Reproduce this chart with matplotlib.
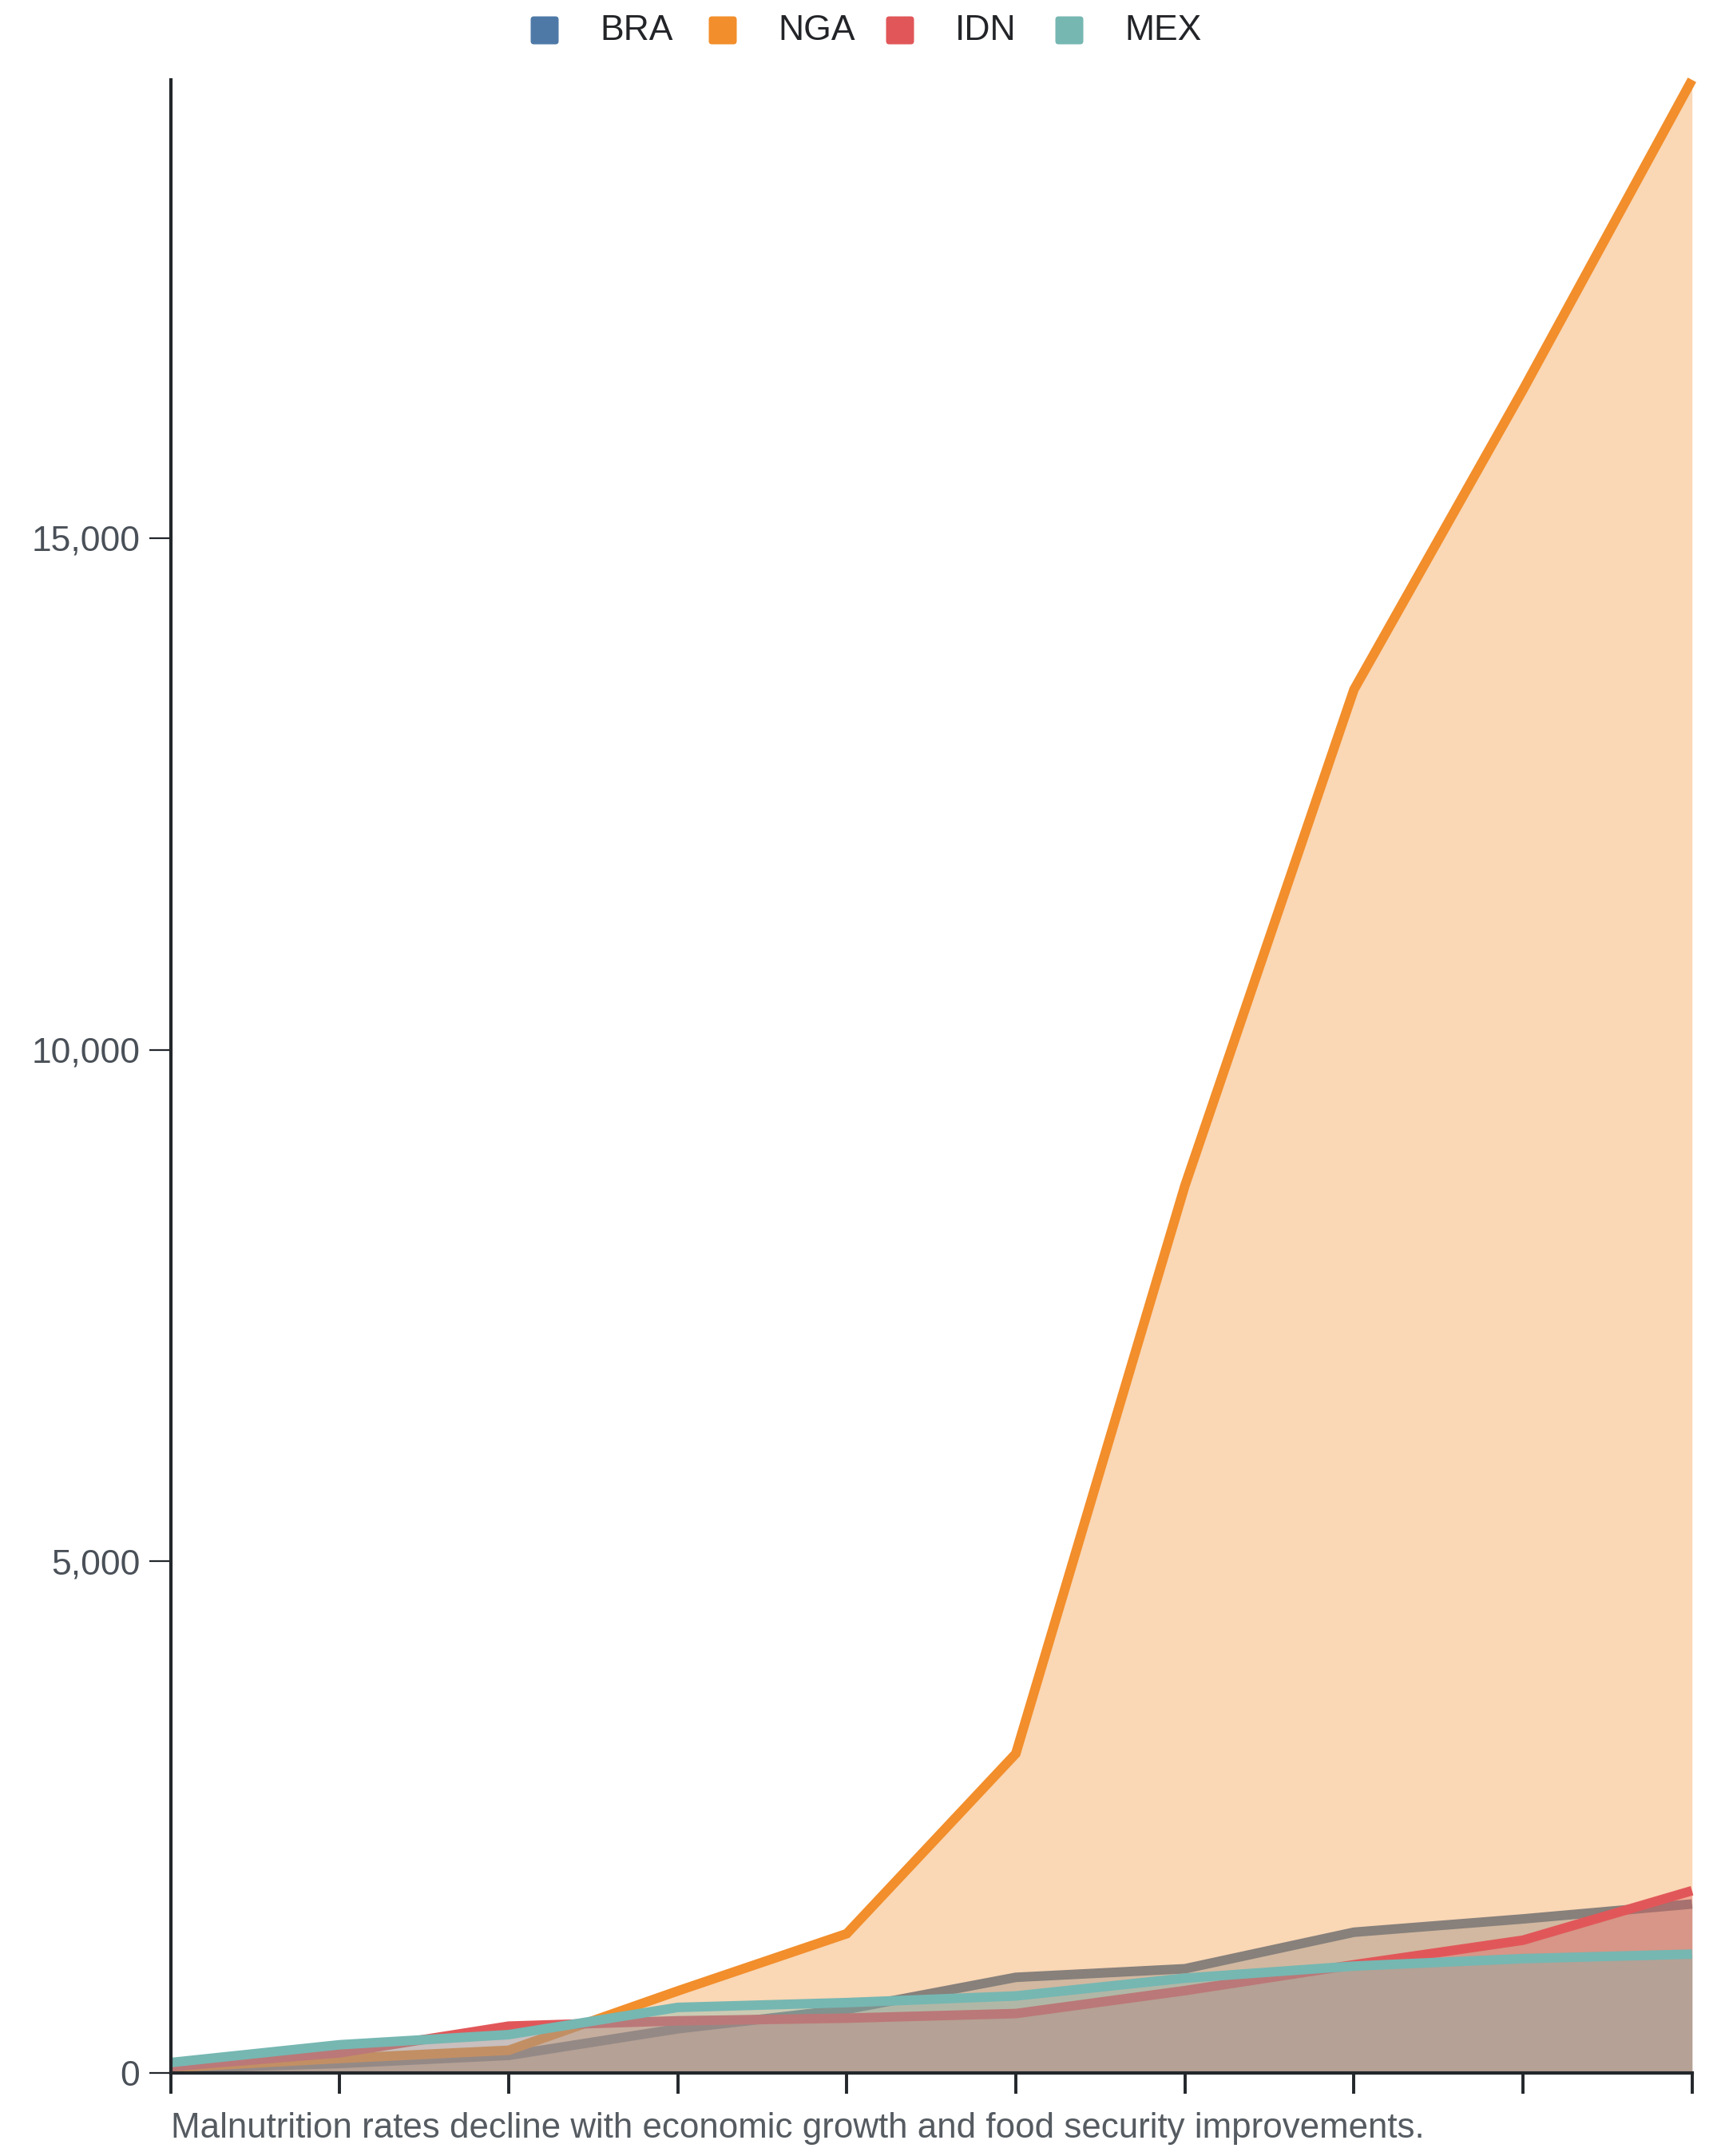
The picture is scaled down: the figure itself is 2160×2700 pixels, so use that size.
import matplotlib
matplotlib.use("Agg")
import matplotlib.pyplot as plt
from matplotlib.patches import FancyBboxPatch
from matplotlib.ticker import FuncFormatter

plt.rcParams['font.family'] = ['Liberation Sans', 'DejaVu Sans']

# ---- data ----
periods = list(range(10))
series_names = ["BRA", "NGA", "IDN", "MEX"]
bra = [40, 91, 170, 430, 620, 933, 1017, 1374, 1504, 1650]
nga = [50, 140, 220, 800, 1360, 3120, 8670, 13520, 16450, 19480]
idn = [60, 195, 456, 508, 534, 579, 803, 1056, 1296, 1780]
mex = [100, 274, 373, 639, 686, 751, 925, 1043, 1116, 1160]
y_ticks = [0, 5000, 10000, 15000]
caption = "Malnutrition rates decline with economic growth and food security improvements."

colors = ["#4e79a7", "#f28e2b", "#e15759", "#76b7b2"]
values = [bra, nga, idn, mex]

W, H = 2160, 2700
fig = plt.figure(figsize=(W / 100, H / 100), dpi=100)
fig.patch.set_facecolor("white")

left, right = 213.6, 2118.7
top, bottom = 100, 2595.8
ax = fig.add_axes([left / W, 1 - bottom / H, (right - left) / W, (bottom - top) / H])

z = 1
for vals, c in zip(values, colors):
    ax.fill_between(periods, 0, vals, color=c, alpha=0.35, linewidth=0, zorder=z)
    ax.plot(periods, vals, color=c, linewidth=8.6, solid_joinstyle="miter",
            solid_capstyle="butt", clip_on=False, zorder=z + 0.5)
    z += 1

ax.set_xlim(periods[0], periods[-1])
ax.set_ylim(0, max(nga))
ax.set_xticks(periods)
ax.set_xticklabels([])
ax.set_yticks(y_ticks)
ax.yaxis.set_major_formatter(FuncFormatter(lambda v, p: f"{int(v):,}"))

for s in ["top", "right"]:
    ax.spines[s].set_visible(False)
for s in ["left", "bottom"]:
    ax.spines[s].set_color("#23272b")
    ax.spines[s].set_linewidth(3.0)
    ax.spines[s].set_zorder(10)

ax.tick_params(axis="y", length=19.5, width=1.6, color="#23272b", pad=8,
               labelsize=32, labelcolor="#4a5058")
ax.tick_params(axis="x", length=18.5, width=2.8, color="#23272b")

# overlay for legend and caption (pixel coordinates)
ov = fig.add_axes([0, 0, 1, 1], zorder=10)
ov.set_xlim(0, W)
ov.set_ylim(H, 0)
ov.axis("off")
ov.patch.set_alpha(0)

sq_centers = [682, 905, 1127, 1339]
ly = 38
sz = 35
for name, c, cx in zip(series_names, colors, sq_centers):
    ov.add_patch(FancyBboxPatch((cx - sz / 2 + 3, ly - sz / 2 + 3), sz - 6, sz - 6,
                                boxstyle="round,pad=3,rounding_size=4",
                                facecolor=c, edgecolor="none"))
    ov.text(cx + 69, ly, name, fontsize=32, color="#222428", va="center", ha="left")

ov.text(left, 2666, caption, fontsize=31.6, color="#555b61", va="center", ha="left")

fig.savefig("out.png", dpi=100)
